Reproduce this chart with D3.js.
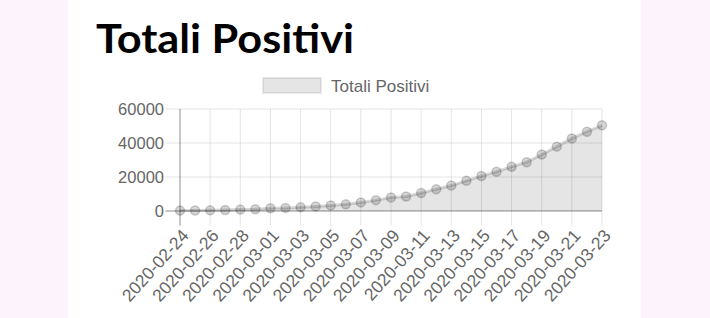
<!DOCTYPE html>
<html>
<head>
<meta charset="utf-8">
<script src="https://cdn.jsdelivr.net/npm/d3@7"></script>
<style>
  html, body { margin: 0; padding: 0; background: #fdf3fc; }
  svg { display: block; }
</style>
</head>
<body>
<svg id="chart"></svg>
<script>
// data
var dates = ["2020-02-24","2020-02-25","2020-02-26","2020-02-27","2020-02-28","2020-02-29",
  "2020-03-01","2020-03-02","2020-03-03","2020-03-04","2020-03-05","2020-03-06","2020-03-07",
  "2020-03-08","2020-03-09","2020-03-10","2020-03-11","2020-03-12","2020-03-13","2020-03-14",
  "2020-03-15","2020-03-16","2020-03-17","2020-03-18","2020-03-19","2020-03-20","2020-03-21",
  "2020-03-22","2020-03-23"];
var positivi = [221,311,385,588,821,1049,1577,1835,2263,2706,3296,3916,5061,6387,7985,8514,
  10590,12839,14955,17750,20603,23073,26062,28710,33190,37860,42681,46638,50418];
var yTicks = [0, 20000, 40000, 60000];
var titleText = "Totali Positivi";
var legendText = "Totali Positivi";

var w = 710, h = 318;
// plot box
var plotL = 180, plotR = 602, plotT = 109, plotB = 211;
var tickLen = 14.5;

var svg = d3.select("#chart").attr("width", w).attr("height", h);

// white panel
svg.append("rect")
    .attr("x", 68).attr("y", 0)
    .attr("width", 573).attr("height", h)
    .attr("fill", "white");

// title
svg.append("text")
    .attr("x", 96).attr("y", 52.5)
    .attr("font-family", "Lato, 'Open Sans', sans-serif")
    .attr("font-weight", 700)
    .attr("font-size", 41)
    .attr("textLength", 258)
    .attr("lengthAdjust", "spacingAndGlyphs")
    .attr("fill", "#000")
    .text(titleText);

// legend
svg.append("rect")
    .attr("x", 263).attr("y", 78)
    .attr("width", 58).attr("height", 15)
    .attr("fill", "rgba(0,0,0,0.1)")
    .attr("stroke", "rgba(0,0,0,0.08)")
    .attr("stroke-width", 2);
svg.append("text")
    .attr("x", 331).attr("y", 91.5)
    .attr("font-family", "'Liberation Sans', Arial, sans-serif")
    .attr("font-size", 17)
    .attr("fill", "#666")
    .text(legendText);

//scales
var xScale = d3.scalePoint().domain(dates).range([plotL, plotR]);
var yScale = d3.scaleLinear().domain([0, 60000]).range([plotB, plotT]);

var shown = dates.filter(function(d, i) { return i % 2 === 0; });

// horizontal grid
svg.append("g").selectAll("line")
    .data(yTicks)
    .enter().append("line")
    .attr("x1", plotL - tickLen).attr("x2", plotR)
    .attr("y1", function(d) { return yScale(d); })
    .attr("y2", function(d) { return yScale(d); })
    .attr("stroke", function(d) { return d === 0 ? "rgba(0,0,0,0.3)" : "rgba(0,0,0,0.1)"; })
    .attr("stroke-width", function(d) { return d === 0 ? 1.5 : 1; });

// vertical grid
svg.append("g").selectAll("line")
    .data(shown)
    .enter().append("line")
    .attr("x1", function(d) { return xScale(d); })
    .attr("x2", function(d) { return xScale(d); })
    .attr("y1", plotT).attr("y2", plotB + tickLen)
    .attr("stroke", function(d, i) { return i === 0 ? "rgba(0,0,0,0.3)" : "rgba(0,0,0,0.1)"; })
    .attr("stroke-width", function(d, i) { return i === 0 ? 1.5 : 1; });

// y tick labels
svg.append("g").selectAll("text")
    .data(yTicks)
    .enter().append("text")
    .attr("x", plotL - 16)
    .attr("y", function(d) { return yScale(d); })
    .attr("dy", "0.36em")
    .attr("text-anchor", "end")
    .attr("font-family", "'Liberation Sans', Arial, sans-serif")
    .attr("font-size", 16.5)
    .attr("fill", "#666")
    .text(function(d) { return d; });

// x tick labels, rotated
svg.append("g").selectAll("text")
    .data(shown)
    .enter().append("text")
    .attr("transform", function(d) { return "translate(" + (xScale(d) + 5) + "," + (plotB + 21) + ") rotate(-48)"; })
    .attr("dy", "0.36em")
    .attr("text-anchor", "end")
    .attr("font-family", "'Liberation Sans', Arial, sans-serif")
    .attr("font-size", 17.5)
    .attr("fill", "#666")
    .text(function(d) { return d; });

// area
var area = d3.area()
    .x(function(d, i) { return xScale(dates[i]); })
    .y0(yScale(0))
    .y1(function(d) { return yScale(d); });
svg.append("path")
    .datum(positivi)
    .attr("d", area)
    .attr("fill", "rgba(0,0,0,0.1)");

// line
var line = d3.line()
    .x(function(d, i) { return xScale(dates[i]); })
    .y(function(d) { return yScale(d); });
svg.append("path")
    .datum(positivi)
    .attr("d", line)
    .attr("fill", "none")
    .attr("stroke", "rgba(0,0,0,0.15)")
    .attr("stroke-width", 3);

// points
svg.append("g").selectAll("circle")
    .data(positivi)
    .enter().append("circle")
    .attr("cx", function(d, i) { return xScale(dates[i]); })
    .attr("cy", function(d) { return yScale(d); })
    .attr("r", 4.5)
    .attr("fill", "rgba(0,0,0,0.16)")
    .attr("stroke", "rgba(0,0,0,0.18)")
    .attr("stroke-width", 1.5);
</script>
</body>
</html>
